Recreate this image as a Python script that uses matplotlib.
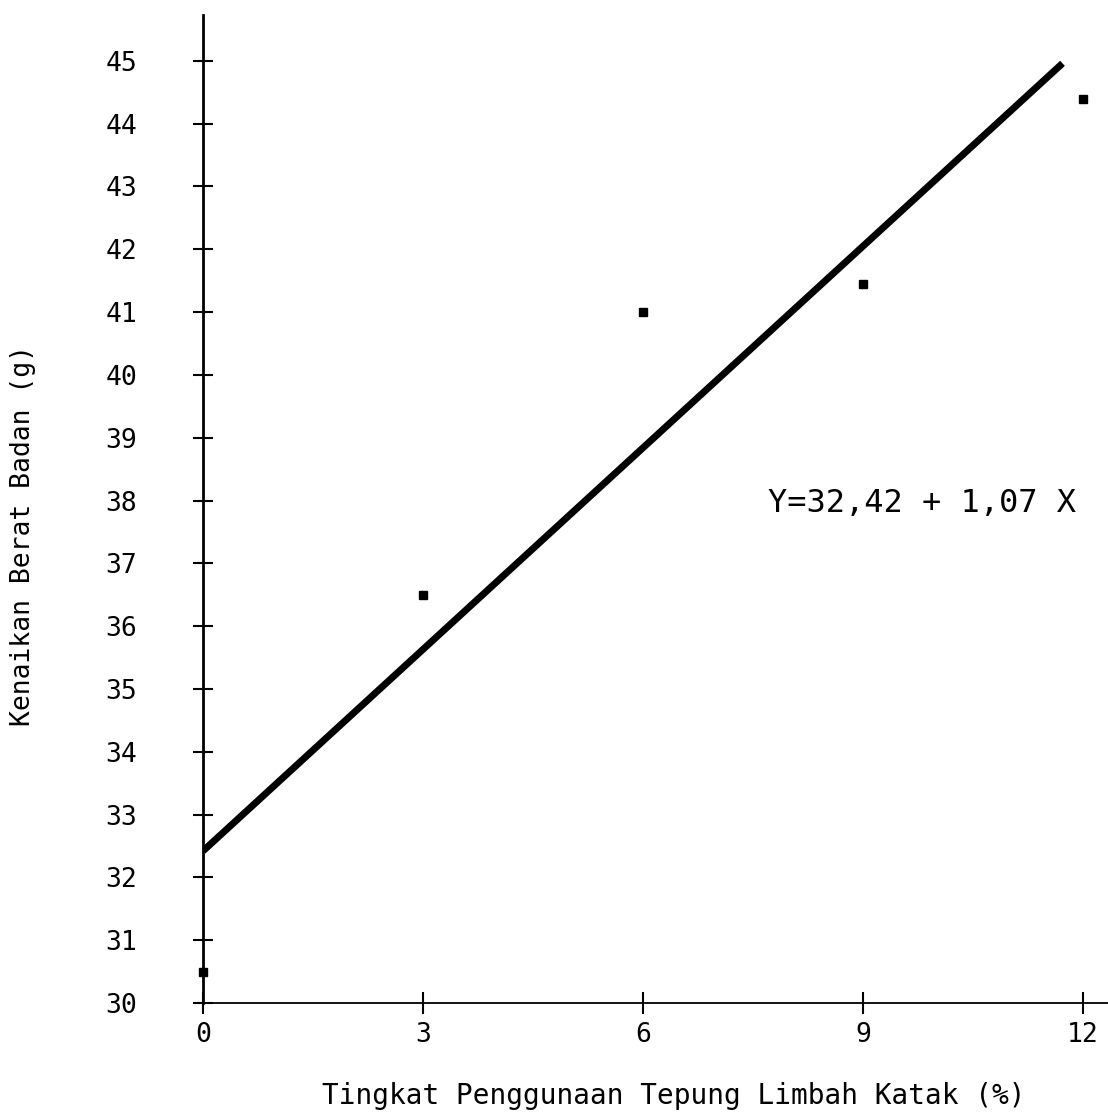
import matplotlib.pyplot as plt

# data
levels = [0, 3, 6, 9, 12]            # Tingkat penggunaan tepung limbah katak (%)
gains = [30.5, 36.5, 41.0, 41.45, 44.4]   # kenaikan berat badan (g)

# regression line printed on the chart
intercept = 32.42
slope = 1.07
line_x = [0, 11.72]

xticks = [0, 3, 6, 9, 12]
yticks = list(range(30, 46))

mono = 'DejaVu Sans Mono'

fig = plt.figure(figsize=(11.08, 11.2), dpi=100)
ax = fig.add_axes([203 / 1108, 117 / 1120, 905 / 1108, 988 / 1120])

line_y = [intercept + slope * x for x in line_x]
ax.plot(line_x, line_y, color='black', linewidth=5, solid_capstyle='butt')
ax.plot(levels, gains, linestyle='none', marker='s', markersize=6,
        color='black', clip_on=False)

ax.set_xlim(0, 12.34)
ax.set_ylim(30, 45.73)

for side in ['top', 'right']:
    ax.spines[side].set_visible(False)
ax.spines['left'].set_linewidth(2)
ax.spines['bottom'].set_linewidth(1.3)

ax.set_xticks(xticks)
ax.set_yticks(yticks)
ax.set_xticklabels([str(v) for v in xticks], fontfamily=mono, fontsize=19)
ax.set_yticklabels([str(v) for v in yticks], fontfamily=mono, fontsize=19)
ax.tick_params(axis='y', direction='inout', length=15, width=1.5, pad=40)
ax.tick_params(axis='x', direction='inout', length=16, width=1.5, pad=6)

ax.set_xlabel('Tingkat Penggunaan Tepung Limbah Katak (%)',
              fontfamily=mono, fontsize=20)
ax.xaxis.set_label_coords((674 - 203) / 905, -(1082 - 1003) / 988)
ax.set_ylabel('Kenaikan Berat Badan (g)', fontfamily=mono, fontsize=19)
ax.yaxis.set_label_coords(-(203 - 36) / 905, (1003 - 536) / 988)

ax.text(768 / 1108, 1 - 503 / 1120, 'Y=32,42 + 1,07 X', transform=fig.transFigure,
        fontfamily=mono, fontsize=23, va='center', ha='left')

fig.savefig('out.png', dpi=100)
